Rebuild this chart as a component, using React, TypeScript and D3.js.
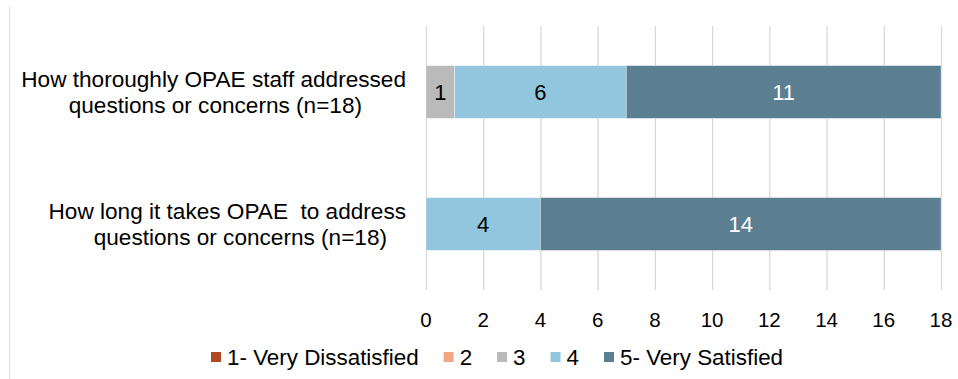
import React, { useEffect, useRef } from "react";
import * as d3 from "d3";

const categories = [
  ["How thoroughly OPAE staff addressed", "questions or concerns (n=18)"],
  ["How long it takes OPAE  to address", "questions or concerns (n=18)"],
];
const seriesNames = ["1- Very Dissatisfied", "2", "3", "4", "5- Very Satisfied"];
const seriesColors = ["#B04A22", "#F4A582", "#BABABA", "#92C5DE", "#5C7E91"];
const labelColors = ["#ffffff", "#000000", "#000000", "#000000", "#ffffff"];
const values = [
  [0, 0, 1, 6, 11],
  [0, 0, 0, 4, 14],
];
const xTicks = [0, 2, 4, 6, 8, 10, 12, 14, 16, 18];

const W = 958;
const H = 379;
const FONT = "'Liberation Sans', Arial, sans-serif";

export default function App() {
  const ref = useRef<SVGSVGElement | null>(null);

  useEffect(() => {
    const svg = d3.select(ref.current);
    svg.selectAll("*").remove();

    const left = 426, right = 941, top = 26, bottom = 290;
    const x = d3.scaleLinear().domain([0, 18]).range([left, right]);
    const y = d3
      .scaleBand<number>()
      .domain(d3.range(categories.length))
      .range([top, bottom])
      .paddingInner(0.6)
      .paddingOuter(0.3);

    // outer frame (left edge visible)
    svg.append("line").attr("x1", 9.5).attr("x2", 9.5).attr("y1", 6).attr("y2", 379)
      .attr("stroke", "#e0e0e0").attr("stroke-width", 1);

    // gridlines
    svg.append("g").selectAll("line").data(xTicks).join("line")
      .attr("x1", (d) => x(d) + 0.5).attr("x2", (d) => x(d) + 0.5)
      .attr("y1", top).attr("y2", bottom)
      .attr("stroke", "#d9d9d9").attr("stroke-width", 1.3);

    // bars
    const rows = svg.append("g").selectAll("g").data(values).join("g");
    rows.each(function (row, i) {
      const g = d3.select(this);
      let acc = 0;
      row.forEach((v, s) => {
        const x0 = acc;
        acc += v;
        if (v <= 0) return;
        g.append("rect")
          .attr("x", x(x0)).attr("width", x(acc) - x(x0))
          .attr("y", y(i)!).attr("height", y.bandwidth())
          .attr("fill", seriesColors[s])
          .attr("stroke", "#ffffff").attr("stroke-opacity", 0.5).attr("stroke-width", 0.75);
        g.append("text")
          .attr("x", (x(x0) + x(acc)) / 2)
          .attr("y", y(i)! + y.bandwidth() / 2)
          .attr("dy", "0.36em")
          .attr("text-anchor", "middle")
          .attr("font-family", FONT).attr("font-size", 22)
          .attr("fill", labelColors[s])
          .text(String(v));
      });
    });

    // category labels
    const lineOffsets = [[0, 44], [0, 19]];
    categories.forEach((lines, i) => {
      const cy = y(i)! + y.bandwidth() / 2;
      const t = svg.append("text")
        .attr("font-family", FONT).attr("font-size", 22.6).attr("fill", "#000")
        .attr("text-anchor", "end");
      lines.forEach((ln, k) => {
        t.append("tspan")
          .attr("x", 406 - lineOffsets[i][k])
          .attr("y", cy + (k - 0.5) * 26)
          .attr("dy", "0.36em")
          .attr("xml:space", "preserve")
          .style("white-space", "pre")
          .text(ln);
      });
    });

    // x tick labels
    svg.append("g").selectAll("text").data(xTicks).join("text")
      .attr("x", (d) => x(d)).attr("y", 320).attr("dy", "0.36em")
      .attr("text-anchor", "middle")
      .attr("font-family", FONT).attr("font-size", 20.5).attr("fill", "#000")
      .text((d) => String(d));

    // legend
    const lg = svg.append("g");
    const fs = 22.4;
    const tmp = lg.append("text").attr("font-family", FONT).attr("font-size", fs);
    const widths = seriesNames.map((n) => {
      tmp.text(n);
      return (tmp.node() as SVGTextElement).getComputedTextLength();
    });
    tmp.remove();
    const sq = 10, gapSq = 6, gapItem = 25;
    let cx = 211;
    const ly = 357;
    seriesNames.forEach((n, s) => {
      lg.append("rect").attr("x", cx).attr("y", ly - sq / 2).attr("width", sq).attr("height", sq)
        .attr("fill", seriesColors[s]);
      lg.append("text").attr("x", cx + sq + gapSq).attr("y", ly).attr("dy", "0.36em")
        .attr("font-family", FONT).attr("font-size", fs).attr("fill", "#000").text(n);
      cx += sq + gapSq + widths[s] + gapItem;
    });
  }, []);

  return (
    <svg
      ref={ref}
      width={W}
      height={H}
      style={{ position: "absolute", left: 0, top: 0, background: "#fff" }}
    />
  );
}
